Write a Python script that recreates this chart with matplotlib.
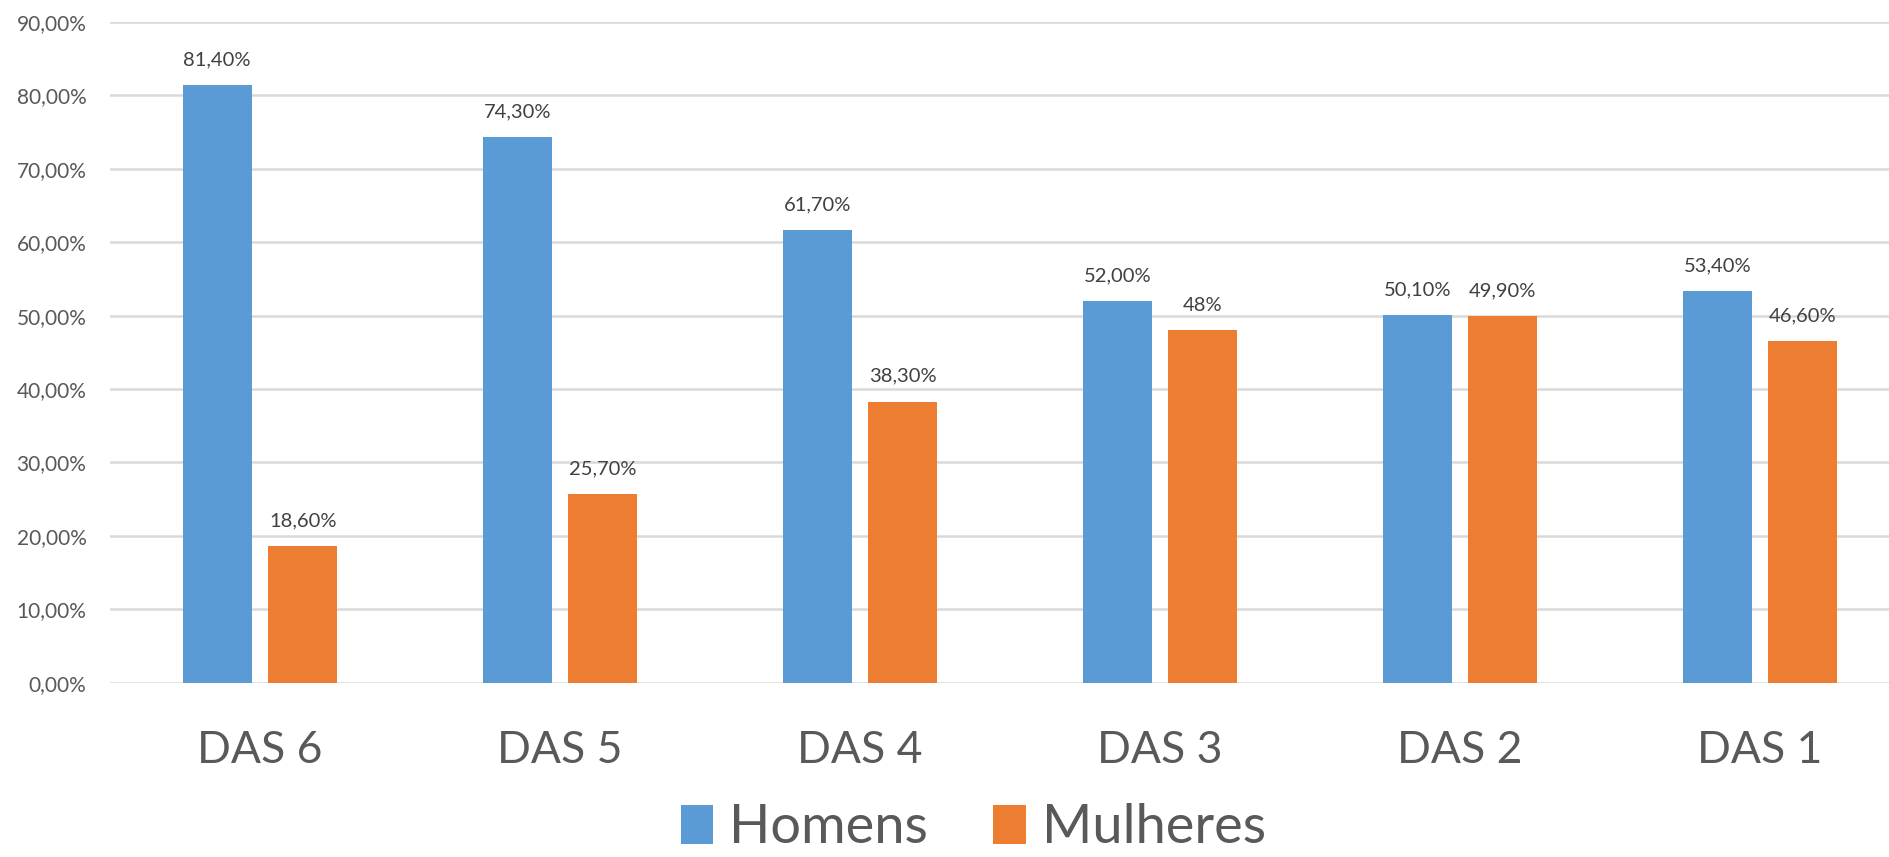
import matplotlib
matplotlib.use("Agg")
import matplotlib.pyplot as plt
from matplotlib.patches import Patch
import numpy as np

categories = ["DAS 6", "DAS 5", "DAS 4", "DAS 3", "DAS 2", "DAS 1"]
homens = [81.4, 74.3, 61.7, 52.0, 50.1, 53.4]
mulheres = [18.6, 25.7, 38.3, 48.0, 49.9, 46.6]
homens_labels = ["81,40%", "74,30%", "61,70%", "52,00%", "50,10%", "53,40%"]
mulheres_labels = ["18,60%", "25,70%", "38,30%", "48%", "49,90%", "46,60%"]
yticks = [0, 10, 20, 30, 40, 50, 60, 70, 80, 90]
ytick_labels = ["0,00%", "10,00%", "20,00%", "30,00%", "40,00%", "50,00%",
                "60,00%", "70,00%", "80,00%", "90,00%"]
series_names = ["Homens", "Mulheres"]

BLUE = "#5B9BD5"
ORANGE = "#ED7D31"
TICK = "#595959"
LABEL = "#404040"

plt.rcParams['font.family'] = ['Lato', 'DejaVu Sans']

fig = plt.figure(figsize=(18.9, 8.57), dpi=100)
# plot area extends past the right edge of the image (as in the reference)
ax = fig.add_axes([110 / 1890, 0.2034, 1800 / 1890, 0.7709])

x = np.arange(len(categories))
w = 0.23
off = 0.1425
b1 = ax.bar(x - off, homens, w, color=BLUE, zorder=3)
b2 = ax.bar(x + off, mulheres, w, color=ORANGE, zorder=3)

for bars, labels in ((b1, homens_labels), (b2, mulheres_labels)):
    for rect, lab in zip(bars, labels):
        ax.annotate(lab, (rect.get_x() + rect.get_width() / 2, rect.get_height()),
                    xytext=(0, 12), textcoords="offset points", ha="center", va="bottom",
                    fontsize=14.5, color=LABEL)

ax.set_xlim(-0.5, len(categories) - 0.5)
ax.set_ylim(0, 90)
ax.set_yticks(yticks)
ax.set_yticklabels(ytick_labels, fontsize=15, color=TICK)
ax.set_xticks(x)
ax.set_xticklabels(categories, fontsize=32, color=TICK)
ax.tick_params(axis="y", length=0, pad=17)
ax.tick_params(axis="x", length=0, pad=34)
ax.grid(axis="y", color="#D9D9D9", linewidth=1.8, zorder=0)
for s in ax.spines.values():
    s.set_visible(False)

handles = [Patch(facecolor=BLUE), Patch(facecolor=ORANGE)]
fig.legend(handles, series_names, loc="center", bbox_to_anchor=(0.515, 0.034),
           ncol=2, frameon=False, fontsize=39, labelcolor=TICK,
           handlelength=0.6, handleheight=0.75, handletextpad=0.3, columnspacing=1.2)

fig.savefig("out.png", dpi=100, facecolor="white")
